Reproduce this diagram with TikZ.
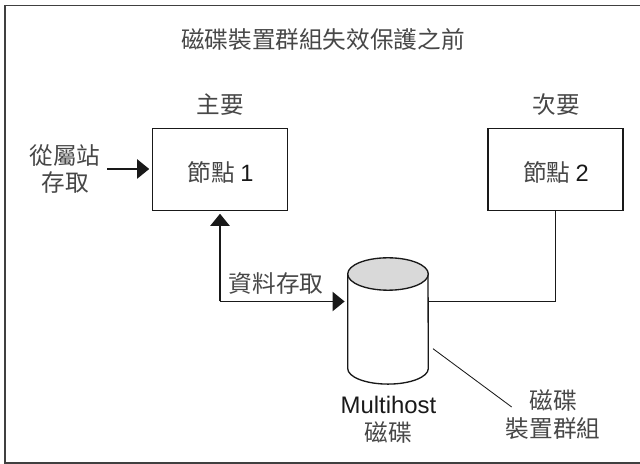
\documentclass[tikz,border=0pt]{standalone}
\usepackage{fontspec}
\setmainfont{Liberation Sans}
\newfontfamily\cjk{Noto Sans CJK TC}
\usepackage{tikz}
\usetikzlibrary{arrows.meta}

\tikzset{
  hostbox/.style={draw=black!90,line width=0.95pt,minimum width=3.375cm,minimum height=2.04cm,inner sep=0pt},
  lbl/.style={font=\fontsize{16.8}{19.9}\selectfont\cjk,align=center,inner sep=0pt,text=black!72},
  link/.style={line width=0.95pt,black!90},
  tip/.style={-{Triangle[length=0.3cm,width=0.48cm]},shorten >=0.07cm}
}

\begin{document}
\begin{tikzpicture}[x=0.025cm,y=-0.025cm]
    \useasboundingbox (0,0) rectangle (640,464);

    % outer frame
    \draw[line width=0.95pt,black!75] (640,5.3) -- (5,5.3) -- (5,463) -- (640,463);

    % title
    \node[lbl] (title) at (323,40) {磁碟裝置群組失效保護之前};

    % draw nodes
    \node[hostbox] (node1) at (220.2,169.5) {};
    \node[hostbox] (node2) at (555.4,169.5) {};
    \node[lbl] at (220.7,172) {節點 {\fontspec{Liberation Sans}\color{black!90}1}};
    \node[lbl] at (556,172) {節點 {\fontspec{Liberation Sans}\color{black!90}2}};
    \node[lbl] (primary) at (220,105) {主要};
    \node[lbl] (secondary) at (556,105) {次要};

    % draw disk
    \node[minimum width=2.015cm,minimum height=3.165cm,inner sep=0pt] (disk) at (388,321) {};
    \draw[link,fill=white] (347.7,274) -- (347.7,368.5)
      arc[start angle=180,end angle=360,x radius=1.0075cm,y radius=0.39cm] -- (428,274);
    \draw[link,fill=black!15] (388,274) ellipse[x radius=1.0075cm,y radius=0.405cm];
    \node[font=\fontsize{17}{19}\selectfont,inner sep=0pt,text=black!90] (mh) at (388.5,405) {Multihost};
    \node[lbl] (mhdisk) at (388,433) {磁碟};

    % draw labels
    \node[lbl] (slave) at (65,169) {從屬站\\存取};
    \node[lbl] (data) at (276,283) {資料存取};
    \node[lbl] (group) at (553,415) {磁碟\\裝置群組};

    % draw connectors
    \coordinate (bend1) at (220,301.5);
    \coordinate (bend2) at (555.7,301.5);
    \coordinate (slaveend) at (107,169);
    \coordinate (leadA) at (433,348.7);
    \coordinate (leadB) at (511.7,407);
    \draw[link,tip] (slaveend) -- (node1.west |- slaveend);
    \draw[link,tip] (bend1) -- (node1.south -| bend1);
    \draw[link,tip] (bend1) -- (disk.west |- bend1);
    \draw[link] (disk.east |- bend2) -- (bend2) -- (node2.south -| bend2);
    \draw[line width=0.6pt,black!90] (leadA) -- (leadB);
\end{tikzpicture}
\end{document}
